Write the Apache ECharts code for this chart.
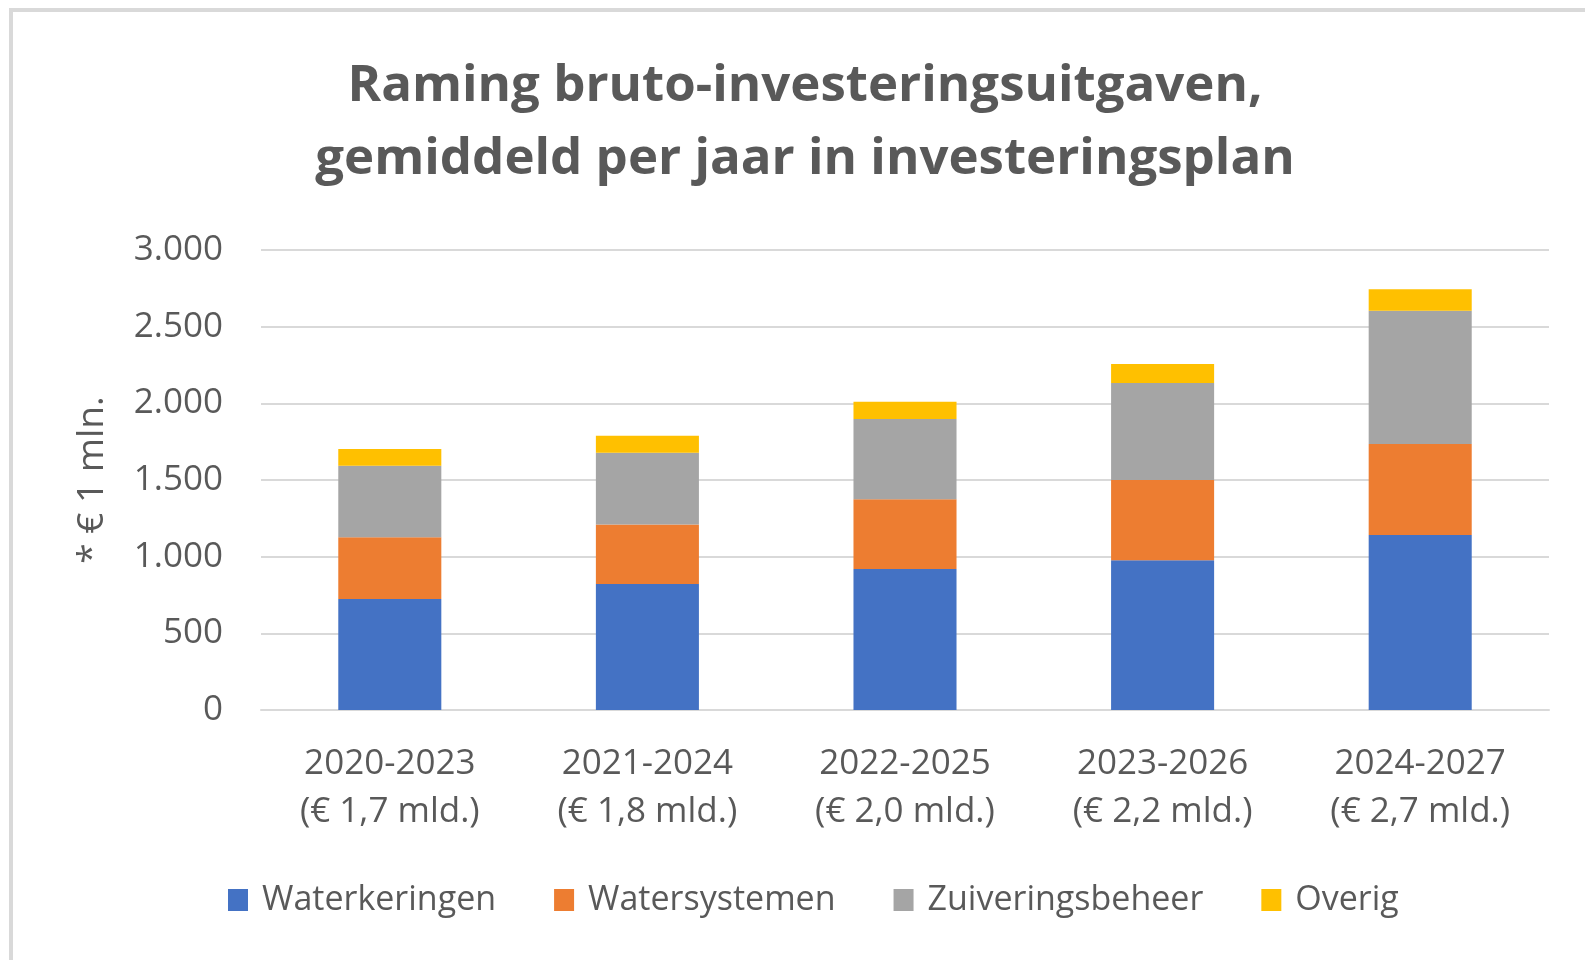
<!DOCTYPE html>
<html>
<head>
<meta charset="utf-8">
<script src="https://cdn.jsdelivr.net/npm/echarts@6/dist/echarts.min.js"></script>
<style>
  html, body { margin: 0; padding: 0; background: #fff; }
  #frame {
    position: absolute; left: 9px; top: 8px; right: 0; bottom: 0;
    border-top: 4px solid #d9d9d9; border-left: 4px solid #d9d9d9;
    pointer-events: none;
  }
  #chart { position: absolute; left: 0; top: 0; width: 1585px; height: 960px; }
</style>
</head>
<body>
<div id="chart"></div>
<div id="frame"></div>
<script>
// --- data ---
const periods = ["2020-2023", "2021-2024", "2022-2025", "2023-2026", "2024-2027"];
const totals = ["(€ 1,7 mld.)", "(€ 1,8 mld.)", "(€ 2,0 mld.)", "(€ 2,2 mld.)", "(€ 2,7 mld.)"];
const waterkeringen = [724, 822, 920, 976, 1141];
const watersystemen = [402, 387, 454, 524, 594];
const zuiveringsbeheer = [467, 469, 524, 633, 869];
const overig = [109, 111, 113, 124, 140];
const yTicks = { min: 0, max: 3000, interval: 500 };

const categories = periods.map((p, i) => p + "\n" + totals[i]);
const textColor = "#595959";
const font = "'Open Sans', 'Noto Sans', sans-serif";

const chart = echarts.init(document.getElementById("chart"));

function bar(name, data, color) {
  return {
    name: name,
    type: "bar",
    stack: "total",
    barWidth: "40%",
    data: data,
    itemStyle: { color: color },
  };
}

chart.setOption({
  backgroundColor: "transparent",
  animation: false,
  textStyle: { fontFamily: font },
  title: {
    text: "Raming bruto-investeringsuitgaven,\ngemiddeld per jaar in investeringsplan",
    left: 800,
    top: 45,
    textAlign: "center",
    textStyle: {
      color: textColor,
      fontFamily: font,
      fontSize: 51,
      fontWeight: "bold",
      lineHeight: 73,
    },
  },
  legend: {
    left: 228,
    top: 883,
    padding: 0,
    itemWidth: 20,
    itemHeight: 22,
    itemGap: 58,
    icon: "rect",
    textStyle: {
      color: textColor,
      fontFamily: font,
      fontSize: 34,
      padding: [0, 0, 0, 9],
    },
    data: ["Waterkeringen", "Watersystemen", "Zuiveringsbeheer", "Overig"],
  },
  grid: {
    left: 261,
    right: 36,
    top: 250,
    bottom: 250,
  },
  xAxis: {
    type: "category",
    data: categories,
    axisLine: { lineStyle: { color: "#d9d9d9", width: 2 } },
    axisTick: { show: false },
    axisLabel: {
      color: textColor,
      fontFamily: font,
      fontSize: 35,
      lineHeight: 48,
      margin: 30,
    },
  },
  yAxis: {
    type: "value",
    min: yTicks.min,
    max: yTicks.max,
    interval: yTicks.interval,
    name: "* € 1 mln.",
    nameLocation: "middle",
    nameRotate: 90,
    nameGap: 150,
    nameTextStyle: {
      color: textColor,
      fontFamily: font,
      fontSize: 37,
    },
    axisLine: { show: false },
    axisTick: { show: false },
    splitLine: { lineStyle: { color: "#d9d9d9", width: 2 } },
    axisLabel: {
      color: textColor,
      fontFamily: font,
      fontSize: 35,
      margin: 38,
      formatter: (v) => String(v).replace(/\B(?=(\d{3})+(?!\d))/g, "."),
    },
  },
  series: [
    bar("Waterkeringen", waterkeringen, "#4472C4"),
    bar("Watersystemen", watersystemen, "#ED7D31"),
    bar("Zuiveringsbeheer", zuiveringsbeheer, "#A5A5A5"),
    bar("Overig", overig, "#FFC000"),
  ],
});

window.addEventListener("resize", () => chart.resize());
</script>
</body>
</html>
